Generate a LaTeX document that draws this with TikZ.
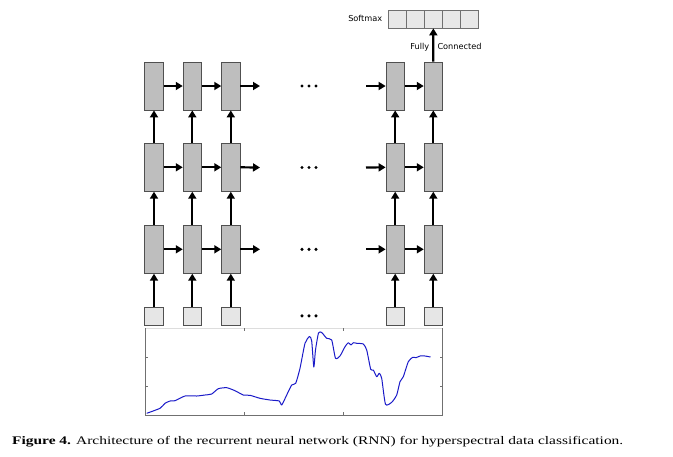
\documentclass[tikz,border=0pt]{standalone}
\usepackage{fontspec}
\setmainfont{Liberation Serif}
\newfontfamily\labfont{DejaVu Sans}
\usetikzlibrary{arrows.meta}
\definecolor{cellgray}{HTML}{BEBEBE}
\definecolor{cellline}{HTML}{505050}
\definecolor{inpgray}{HTML}{E6E6E6}
\definecolor{smgray}{HTML}{E8E8E8}
\definecolor{axgray}{HTML}{707070}
\definecolor{axlight}{HTML}{DDDDDD}
\definecolor{specblue}{HTML}{1A1AC8}
\tikzset{
  rnncell/.style={draw=cellline, fill=cellgray, line width=0.8pt, minimum width=18.3pt, minimum height=48pt, inner sep=0pt},
  inbox/.style={draw=cellline, fill=inpgray, line width=0.8pt, minimum width=18.3pt, minimum height=18pt, inner sep=0pt},
  smcell/.style={draw=axgray, fill=smgray, line width=0.7pt, minimum width=18.14pt, minimum height=18pt, inner sep=0pt},
  flow/.style={line width=2.2pt, -{Triangle[length=7pt,width=8pt]}},
  lab/.style={font=\labfont\fontsize{8.2}{9}\selectfont, inner sep=0pt},
  dotmark/.style={circle, fill=black, inner sep=0pt, minimum size=3.4pt}
}
\begin{document}
\begin{tikzpicture}[x=1pt,y=-1pt]
\useasboundingbox (0,0) rectangle (673,456);
% columns
\foreach \c/\x in {1/154,2/192.3,3/230.8,4/395.2,5/433.3}{
  \node[rnncell] (c\c r1) at (\x,86) {};
  \node[rnncell] (c\c r2) at (\x,167.3) {};
  \node[rnncell] (c\c r3) at (\x,249.3) {};
  \node[inbox] (c\c in) at (\x,316.3) {};
}
% dots
\foreach \r/\y in {1/86,2/167.5,3/249.3,4/315.8}{
  \node[dotmark] (d\r a) at (302,\y) {};
  \node[dotmark] (d\r b) at (309,\y) {};
  \node[dotmark] (d\r c) at (316,\y) {};
  \coordinate (out\r) at (260,\y);
  \coordinate (in\r) at (366,\y);
}
% horizontal arrows
\foreach \r in {1,2,3}{
  \draw[flow] (c1r\r.east) -- (c2r\r.west);
  \draw[flow] (c2r\r.east) -- (c3r\r.west);
  \draw[flow] (c3r\r.east) -- (out\r);
  \draw[flow] (in\r) -- (c4r\r.west);
  \draw[flow] (c4r\r.east) -- (c5r\r.west);
}
% vertical arrows
\foreach \c in {1,2,3,4,5}{
  \draw[flow] (c\c in.north) -- (c\c r3.south);
  \draw[flow] (c\c r3.north) -- (c\c r2.south);
  \draw[flow] (c\c r2.north) -- (c\c r1.south);
}
% softmax
\foreach \i in {1,...,5}{
  \node[smcell] (sm\i) at ({388+9.07+18.14*(\i-1)},19) {};
}
\node[lab, anchor=east] (smlab) at (382.5,18) {Softmax};
\draw[flow] (c5r1.north) -- (sm3.south);
\node[lab, anchor=base east] (fully) at (429.5,49.5) {Fully};
\node[lab, anchor=base west] (conn) at (437.3,49.5) {Connected};
% spectrum plot
\draw[axlight, line width=0.6pt] (145,328.3) -- (442.7,328.3);
\draw[axgray, line width=0.7pt] (145,328.3) -- (145,415) -- (442.7,415) -- (442.7,328.3);
\foreach \x in {244.3,343.3}{
  \draw[axgray, line width=0.5pt] (\x,415) -- (\x,412);
  \draw[axgray, line width=0.5pt] (\x,328.3) -- (\x,331.3);
}
\foreach \y in {357.3,386}{
  \draw[axgray, line width=0.5pt] (145,\y) -- (148,\y);
  \draw[axgray, line width=0.5pt] (442.7,\y) -- (439.7,\y);
}
\draw[specblue, line width=1pt, line join=round] plot[smooth, tension=0.35] coordinates {
(146.7,413.3) (160,408.3) (165,403.3) (170,401) (175,400.7) (185,396) (196.7,396)
(205,395) (211.7,394) (218.3,388.7) (226.7,387.7) (235,390.7) (243.3,395) (250,395.3)
(260,398.3) (270,400) (279.3,401) (281.7,405) (286.7,395) (291.7,385) (295.7,383.3)
(300,368.3) (305,343.3) (309.5,336.5) (311.7,341) (313.8,367) (315.5,350) (318.5,333)
(321.7,332.5) (326.7,338.3) (331.7,340) (335.5,358.3) (340,356) (345,346.7) (348.3,342.7)
(351,345) (353.3,342.7) (356.7,343.3) (363.3,344) (366.7,350) (370.7,369.3) (373.3,370)
(376.7,376.7) (379.3,373.3) (381.7,378.3) (385.5,404.3) (391.7,402.3) (396.7,395)
(400,381.7) (403.3,376.7) (408.3,361.7) (412.7,357.3) (416,357.7) (420,356) (425,356) (430.5,357)
};
% caption
\node[anchor=base west, inner sep=0pt] (cap) at (12,444.5) {\resizebox{611pt}{\height}{\fontsize{11.6}{13}\selectfont\textbf{Figure 4.} Architecture of the recurrent neural network (RNN) for hyperspectral data classification.}};
\end{tikzpicture}
\end{document}
